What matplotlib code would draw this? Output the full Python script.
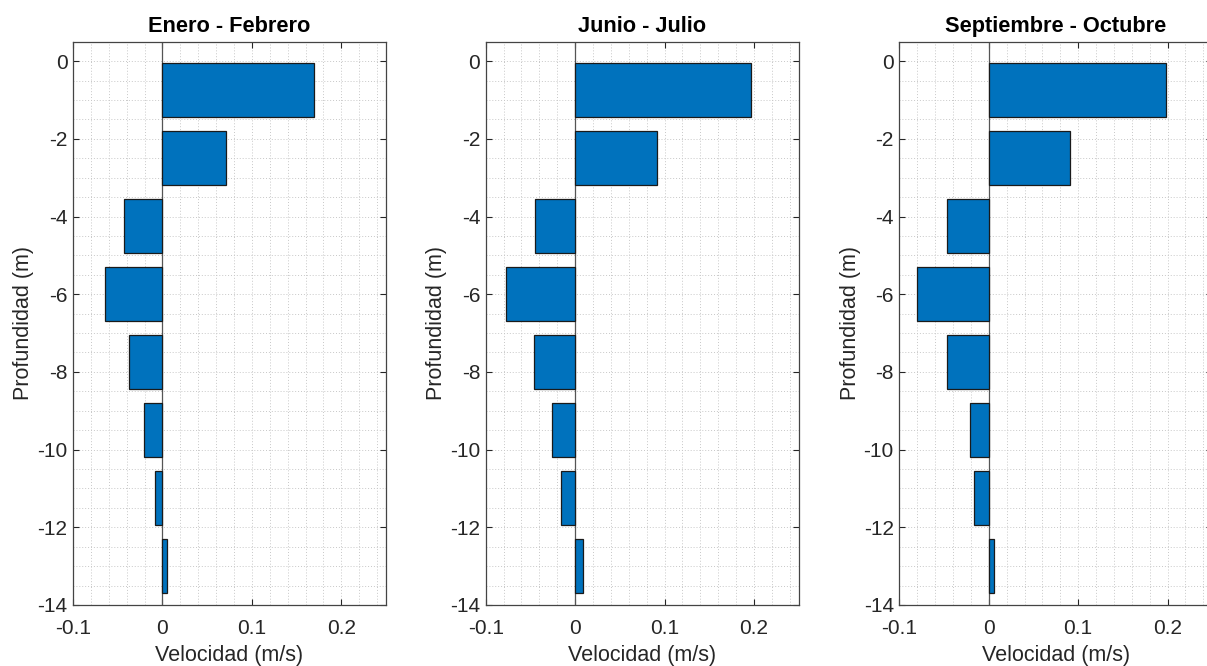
import matplotlib
matplotlib.use("Agg")
import matplotlib.pyplot as plt
from matplotlib.ticker import MultipleLocator
import numpy as np

plt.rcParams['font.family'] = ['Liberation Sans', 'DejaVu Sans']

titles = ["Enero - Febrero", "Junio - Julio", "Septiembre - Octubre"]
depths = [-0.75, -2.5, -4.25, -6.0, -7.75, -9.5, -11.25, -13.0]
vel_ene_feb = [0.170, 0.0715, -0.043, -0.064, -0.037, -0.021, -0.008, 0.005]
vel_jun_jul = [0.197, 0.0914, -0.0446, -0.0777, -0.0465, -0.0253, -0.0156, 0.0086]
vel_sep_oct = [0.1978, 0.0907, -0.0464, -0.080, -0.0464, -0.021, -0.016, 0.0063]
series = [vel_ene_feb, vel_jun_jul, vel_sep_oct]
xticks = [-0.1, 0, 0.1, 0.2]
xticklabels = ["-0.1", "0", "0.1", "0.2"]
yticks = [0, -2, -4, -6, -8, -10, -12, -14]
yticklabels = ["0", "-2", "-4", "-6", "-8", "-10", "-12", "-14"]

fig = plt.figure(figsize=(12.07, 6.66), dpi=100)
lefts = [0.0605, 0.4024, 0.7451]
width = 0.2593
bottom = 0.0916
height = 0.8458
axcol = '#262626'

for i in range(3):
    ax = fig.add_axes([lefts[i], bottom, width, height])
    ax.barh(depths, series[i], height=1.4, color='#0072BD', edgecolor='#1a1a1a',
            linewidth=0.9, zorder=3)
    ax.axvline(0, color='#555555', lw=0.9, zorder=2)
    ax.set_xlim(-0.1, 0.25)
    ax.set_ylim(-14, 0.5)
    ax.set_xticks(xticks)
    ax.set_xticklabels(xticklabels)
    ax.set_yticks(yticks)
    ax.set_yticklabels(yticklabels)
    ax.xaxis.set_minor_locator(MultipleLocator(0.02))
    ax.yaxis.set_minor_locator(MultipleLocator(0.5))
    ax.grid(True, which='both', linestyle=(0, (1, 2)), color='#c8c8c8', lw=0.7, zorder=0)
    ax.set_axisbelow(True)
    ax.tick_params(which='major', direction='in', top=True, right=True, length=4,
                   width=0.8, colors=axcol, labelsize=15)
    ax.tick_params(axis='x', which='major', pad=10)
    ax.tick_params(axis='y', which='major', pad=4)
    ax.tick_params(which='minor', length=0, top=True, right=True)
    for s in ax.spines.values():
        s.set_color('#444444')
        s.set_linewidth(0.9)
    ax.set_title(titles[i], fontsize=15.7, fontweight='bold', color='black', pad=7)
    ax.set_xlabel("Velocidad (m/s)", fontsize=15.5, color=axcol, labelpad=5)
    ax.set_ylabel("Profundidad (m)", fontsize=15.5, color=axcol, labelpad=2)

fig.savefig("out.png", dpi=100)
